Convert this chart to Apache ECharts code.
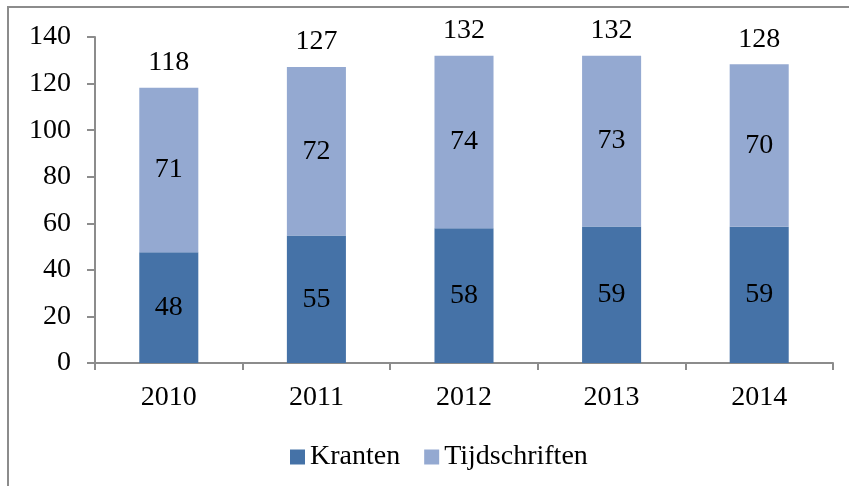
<!DOCTYPE html>
<html>
<head>
<meta charset="utf-8">
<script src="https://cdn.jsdelivr.net/npm/echarts@6/dist/echarts.min.js"></script>
<style>
  html, body { margin: 0; padding: 0; background: #fff; }
  #chart { width: 849px; height: 486px; }
</style>
</head>
<body>
<div id="chart"></div>
<script>
// data
const years = ["2010", "2011", "2012", "2013", "2014"];
const kranten = [47.6, 54.8, 57.9, 58.6, 58.5];
const tijdschriften = [70.6, 72.3, 74.0, 73.4, 69.8];
const totals = [118, 127, 132, 132, 128];
const yTicks = [0, 20, 40, 60, 80, 100, 120, 140];

const font = "Liberation Serif";
const fs = 28;
const axisGrey = "#8c8c8c";

const chart = echarts.init(document.getElementById("chart"));
chart.setOption({
  animation: false,
  textStyle: { fontFamily: font },
  graphic: [
    {
      type: "rect",
      shape: { x: 8, y: 7, width: 900, height: 600 },
      style: { fill: "none", stroke: axisGrey, lineWidth: 2 },
    },
  ],
  grid: { left: 95, right: 16, top: 37, bottom: 123 },
  legend: {
    data: ["Kranten", "Tijdschriften"],
    left: 285,
    top: 438,
    itemWidth: 15,
    itemHeight: 15,
    itemGap: 24,
    icon: "rect",
    textStyle: { fontFamily: font, fontSize: fs, color: "#000" },
  },
  xAxis: {
    type: "category",
    data: years,
    axisLine: { lineStyle: { color: axisGrey, width: 2 } },
    axisTick: { show: true, length: 7, lineStyle: { color: axisGrey, width: 2 } },
    axisLabel: { fontFamily: font, fontSize: fs, color: "#000", margin: 21 },
  },
  yAxis: {
    type: "value",
    min: yTicks[0],
    max: yTicks[yTicks.length - 1],
    interval: 20,
    splitLine: { show: false },
    axisLine: { show: true, lineStyle: { color: axisGrey, width: 2 } },
    axisTick: { show: true, length: 8, lineStyle: { color: axisGrey, width: 2 } },
    axisLabel: { fontFamily: font, fontSize: fs, color: "#000", margin: 24 },
  },
  series: [
    {
      name: "Kranten",
      type: "bar",
      stack: "total",
      barWidth: "40%",
      data: kranten,
      itemStyle: { color: "#4572a7" },
      label: {
        show: true,
        position: "inside",
        fontFamily: font,
        fontSize: fs,
        color: "#000",
        formatter: (p) => Math.round(p.value),
      },
    },
    {
      name: "Tijdschriften",
      type: "bar",
      stack: "total",
      data: tijdschriften,
      itemStyle: { color: "#94a9d1" },
      label: {
        show: true,
        position: "inside",
        fontFamily: font,
        fontSize: fs,
        color: "#000",
        formatter: (p) => Math.round(p.value),
      },
    },
    {
      // only carries the totals above the bars
      name: "Totaal",
      type: "bar",
      stack: "total",
      data: years.map(() => 0),
      itemStyle: { color: "transparent" },
      label: {
        show: true,
        position: "top",
        distance: 11,
        fontFamily: font,
        fontSize: fs,
        color: "#000",
        formatter: (p) => totals[p.dataIndex],
      },
    },
  ],
});
</script>
</body>
</html>
